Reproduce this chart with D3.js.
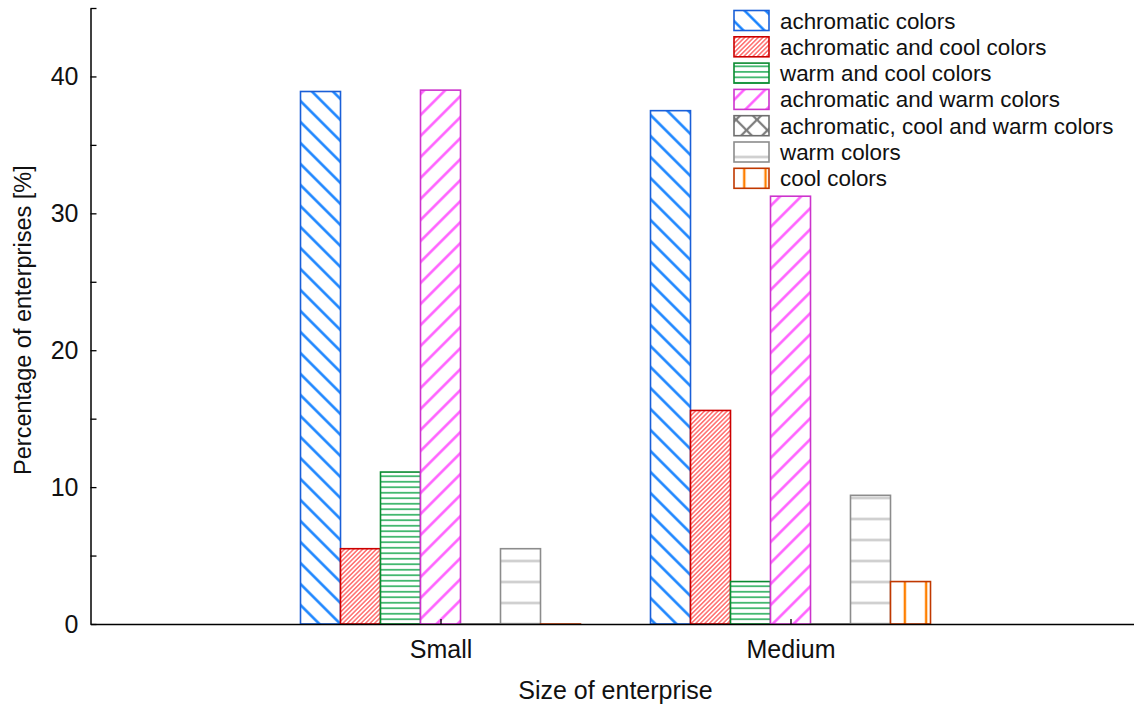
<!DOCTYPE html>
<html>
<head>
<meta charset="utf-8">
<script src="https://cdn.jsdelivr.net/npm/d3@7"></script>
<style>
  html, body { margin: 0; padding: 0; background: #fff; }
  svg { display: block; }
  text { font-family: Arial, "Liberation Sans", sans-serif; fill: #111; }
</style>
</head>
<body>
<svg id="chart" width="1134" height="706"></svg>
<script>
// ---- data ----
const categories = ["Small", "Medium"];
const seriesNames = [
  "achromatic colors",
  "achromatic and cool colors",
  "warm and cool colors",
  "achromatic and warm colors",
  "achromatic, cool and warm colors",
  "warm colors",
  "cool colors"
];
const smallValues  = [38.9, 5.5, 11.1, 39.0, 0, 5.5, 0];
const mediumValues = [37.5, 15.6, 3.1, 31.25, 0, 9.4, 3.1];
const yTickValues = [0, 5, 10, 15, 20, 25, 30, 35, 40, 45];
const yLabelValues = [0, 10, 20, 30, 40];
const xTitle = "Size of enterprise";
const yTitle = "Percentage of enterprises [%]";

// ---- styles (per series) ----
const styles = [
  { id: "p0", stroke: "#1a5fd8" },
  { id: "p1", stroke: "#cc0000" },
  { id: "p2", stroke: "#0a8a30" },
  { id: "p3", stroke: "#cc33cc" },
  { id: "p4", stroke: "#6e6e6e" },
  { id: "p5", stroke: "#8c8c8c" },
  { id: "p6", stroke: "#c03800" }
];

const svg = d3.select("#chart");
const defs = svg.append("defs");

// blue "\" diagonals
(function () {
  const p = defs.append("pattern").attr("id", "p0").attr("patternUnits", "userSpaceOnUse")
    .attr("width", 14.85).attr("height", 10).attr("patternTransform", "rotate(-45)");
  p.append("rect").attr("width", 14.85).attr("height", 10).attr("fill", "#fff");
  p.append("line").attr("x1", 7.4).attr("x2", 7.4).attr("y1", 0).attr("y2", 10)
    .attr("stroke", "#0a7cff").attr("stroke-width", 2.4);
})();
// red dense "/" diagonals
(function () {
  const p = defs.append("pattern").attr("id", "p1").attr("patternUnits", "userSpaceOnUse")
    .attr("width", 3.2).attr("height", 10).attr("patternTransform", "rotate(45)");
  p.append("rect").attr("width", 3.2).attr("height", 10).attr("fill", "#fff");
  p.append("line").attr("x1", 1.6).attr("x2", 1.6).attr("y1", 0).attr("y2", 10)
    .attr("stroke", "#ff6464").attr("stroke-width", 1.4);
})();
// green horizontal lines
(function () {
  const p = defs.append("pattern").attr("id", "p2").attr("patternUnits", "userSpaceOnUse")
    .attr("width", 10).attr("height", 5.5).attr("y", 0.5);
  p.append("rect").attr("width", 10).attr("height", 5.5).attr("fill", "#fff");
  p.append("line").attr("x1", 0).attr("x2", 10).attr("y1", 2.75).attr("y2", 2.75)
    .attr("stroke", "#1aa850").attr("stroke-width", 1.5);
})();
// magenta "/" diagonals
(function () {
  const p = defs.append("pattern").attr("id", "p3").attr("patternUnits", "userSpaceOnUse")
    .attr("width", 14.85).attr("height", 10).attr("patternTransform", "rotate(45)");
  p.append("rect").attr("width", 14.85).attr("height", 10).attr("fill", "#fff");
  p.append("line").attr("x1", 7.4).attr("x2", 7.4).attr("y1", 0).attr("y2", 10)
    .attr("stroke", "#ff55ff").attr("stroke-width", 2.4);
})();
// gray cross hatch
(function () {
  const p = defs.append("pattern").attr("id", "p4").attr("patternUnits", "userSpaceOnUse")
    .attr("width", 21).attr("height", 21).attr("x", 737).attr("y", 4);
  p.append("rect").attr("width", 21).attr("height", 21).attr("fill", "#fff");
  p.append("path").attr("d", "M0,0L21,21M21,0L0,21")
    .attr("stroke", "#7a7a7a").attr("stroke-width", 2.2);
})();
// light gray horizontal lines (period 21)
(function () {
  const p = defs.append("pattern").attr("id", "p5").attr("patternUnits", "userSpaceOnUse")
    .attr("width", 10).attr("height", 21).attr("y", 4.5);
  p.append("rect").attr("width", 10).attr("height", 21).attr("fill", "#fff");
  p.append("line").attr("x1", 0).attr("x2", 10).attr("y1", 10.5).attr("y2", 10.5)
    .attr("stroke", "#c4c4c4").attr("stroke-width", 2.2);
})();
// orange vertical lines (period 21.3)
(function () {
  const p = defs.append("pattern").attr("id", "p6").attr("patternUnits", "userSpaceOnUse")
    .attr("width", 21.3).attr("height", 10).attr("x", 20.9);
  p.append("rect").attr("width", 21.3).attr("height", 10).attr("fill", "#fff");
  p.append("line").attr("x1", 10.65).attr("x2", 10.65).attr("y1", 0).attr("y2", 10)
    .attr("stroke", "#ff7f00").attr("stroke-width", 2.4);
})();

// ---- scales ----
const x = d3.scaleLinear().domain([0, 3]).range([90.5, 1140.5]);
const sub = d3.scaleBand().domain(d3.range(seriesNames.length)).range([-140, 140]).padding(0);
const y = d3.scaleLinear().domain([0, 45]).range([624, 8]);

const tableValues = [smallValues, mediumValues];

// ---- bars ----
categories.forEach((cat, ci) => {
  const g = svg.append("g");
  g.selectAll("rect")
    .data(tableValues[ci].map((v, i) => ({ v, i })))
    .join("rect")
    .attr("x", d => x(ci + 1) + sub(d.i))
    .attr("width", sub.bandwidth())
    .attr("y", d => y(d.v))
    .attr("height", d => Math.max(y(0) - y(d.v), 0.01))
    .attr("fill", d => `url(#${styles[d.i].id})`)
    .attr("stroke", d => styles[d.i].stroke)
    .attr("stroke-width", 1.6);
});

// ---- axes ----
const yAxis = d3.axisLeft(y)
  .tickValues(yTickValues)
  .tickFormat(d => yLabelValues.includes(d) ? d : "")
  .tickSizeInner(-6)
  .tickSizeOuter(0)
  .tickPadding(12);
const gy = svg.append("g").attr("transform", "translate(90.5,0)").call(yAxis);
gy.select(".domain").attr("stroke", "#000").attr("stroke-width", 1.5);
gy.selectAll(".tick line").attr("stroke", "#000").attr("stroke-width", 1.3);
gy.selectAll(".tick text").style("font-size", "25px").attr("fill", "#111")
  .style("font-family", "Arial, 'Liberation Sans', sans-serif");

const xAxis = d3.axisBottom(x)
  .tickValues([1, 2])
  .tickFormat(d => categories[d - 1])
  .tickSizeInner(-5)
  .tickSizeOuter(0)
  .tickPadding(16);
const gx = svg.append("g").attr("transform", "translate(0,624)").call(xAxis);
gx.select(".domain").attr("stroke", "#000").attr("stroke-width", 1.5);
gx.selectAll(".tick line").attr("stroke", "#000").attr("stroke-width", 1.3);
gx.selectAll(".tick text").style("font-size", "25px").attr("fill", "#111")
  .style("font-family", "Arial, 'Liberation Sans', sans-serif");

// axis titles
svg.append("text")
  .attr("x", x(1.5)).attr("y", 699)
  .attr("text-anchor", "middle")
  .style("font-size", "25px")
  .text(xTitle);
svg.append("text")
  .attr("transform", `translate(31,${y(22.2)}) rotate(-90)`)
  .attr("text-anchor", "middle")
  .style("font-size", "23.5px")
  .text(yTitle);

// ---- legend ----
const legend = svg.append("g").attr("transform", "translate(734,10.5)");
const rowH = 26.3;
const items = legend.selectAll("g").data(seriesNames).join("g")
  .attr("transform", (d, i) => `translate(0,${i * rowH})`);
items.append("rect")
  .attr("width", 35).attr("height", 20)
  .attr("fill", (d, i) => `url(#${styles[i].id})`)
  .attr("stroke", (d, i) => styles[i].stroke)
  .attr("stroke-width", 1.6);
items.append("text")
  .attr("x", 46).attr("y", 10).attr("dy", "0.36em")
  .style("font-size", "22.4px")
  .text(d => d);
</script>
</body>
</html>
